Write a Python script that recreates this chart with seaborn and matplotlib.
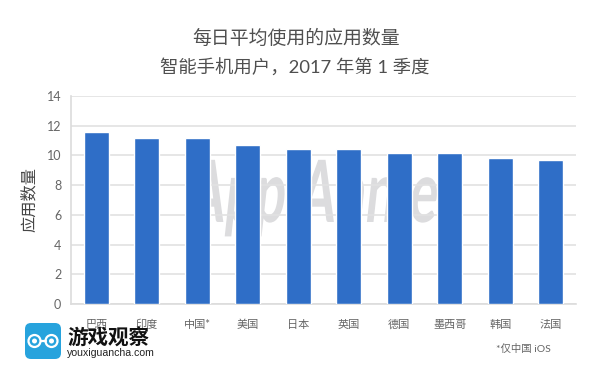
import numpy as np
import pandas as pd
import seaborn as sns
import matplotlib.pyplot as plt
from matplotlib.patches import FancyBboxPatch, Circle, PathPatch
from matplotlib.textpath import TextPath
from matplotlib.font_manager import FontProperties
from matplotlib.transforms import Affine2D

countries = ['巴西', '印度', '中国*', '美国', '日本', '英国', '德国', '墨西哥', '韩国', '法国']
apps_per_day = [11.6, 11.2, 11.15, 10.7, 10.45, 10.4, 10.15, 10.15, 9.85, 9.7]
y_ticks = [0, 2, 4, 6, 8, 10, 12, 14]

sns.set_theme(style='white')
plt.rcParams['font.family'] = ['Lato', 'Noto Sans CJK SC', 'DejaVu Sans']

W, H = 600, 383
fig = plt.figure(figsize=(W / 100, H / 100), dpi=100, facecolor='white')

# watermark sits behind the chart axes, in pixel coordinates
bg = fig.add_axes([0, 0, 1, 1], facecolor='none', zorder=0)
bg.set_xlim(0, W)
bg.set_ylim(H, 0)
bg.axis('off')
mark = TextPath((0, 0), 'App Annie', size=86, prop=FontProperties(family='Lato', weight='bold'))
mark = mark.transformed(Affine2D().skew_deg(10, 0).scale(0.62, -1).translate(186, 222))
bg.add_patch(PathPatch(mark, fc='#dcdcde', ec='none'))

ax = fig.add_axes([71 / W, 1 - 304 / H, 505 / W, 208 / H], facecolor='none', zorder=1)

df = pd.DataFrame({'country': countries, 'apps': apps_per_day})
sns.barplot(data=df, x='country', y='apps', color='#2f6ec7', saturation=1, width=0.5, ax=ax, zorder=3)

ax.set_xlim(-0.5, 9.5)
ax.set_ylim(0, 14)
ax.set_yticks(y_ticks)
ax.grid(axis='y', color='#e2e2e2', lw=1.2, zorder=0)
ax.set_axisbelow(True)
for s in ['top', 'right']:
    ax.spines[s].set_visible(False)
for s in ['left', 'bottom']:
    ax.spines[s].set_color('#dcdcdc')
    ax.spines[s].set_linewidth(1.2)
ax.tick_params(axis='y', length=0, pad=7, labelsize=9, labelcolor='#666666')
ax.tick_params(axis='x', length=0, pad=10.5, labelsize=8, labelcolor='#666666')
ax.set_xlabel('')
ax.set_ylabel('应用数量', fontsize=11.7, color='#444444', labelpad=7)

# titles
fig.text(296 / W, 1 - 38 / H, '每日平均使用的应用数量', ha='center', va='center', fontsize=13.6, color='#4f4f4f')
fig.text(295 / W, 1 - 68 / H, '智能手机用户，2017 年第 1 季度', ha='center', va='center', fontsize=13.2, color='#4f4f4f')

# footnote
fig.text(523 / W, 1 - 349 / H, '*仅中国 iOS', ha='center', va='center', fontsize=7.5, color='#666666')

# logo badge, in pixel coordinates
px = fig.add_axes([0, 0, 1, 1], facecolor='none', zorder=2)
px.set_xlim(0, W)
px.set_ylim(H, 0)
px.axis('off')
px.add_patch(FancyBboxPatch((25, 323), 36, 36, boxstyle='round,pad=0,rounding_size=6', fc='#27a3dd', ec='none'))
for cx in [34.5, 51.5]:
    px.add_patch(Circle((cx, 341), 6, fc='none', ec='white', lw=1.6))
    px.add_patch(Circle((cx, 341), 2.5, fc='white', ec='none'))
px.plot([40.5, 45.5], [341, 341], color='white', lw=1.6)
px.text(67, 337.5, '游戏观察', ha='left', va='center', fontsize=14.8, fontweight='bold', color='#111111')
px.text(67, 353, 'youxiguancha.com', ha='left', va='center', fontsize=7.6, color='#222222', family='Liberation Sans')

fig.savefig('out.png', dpi=100)
